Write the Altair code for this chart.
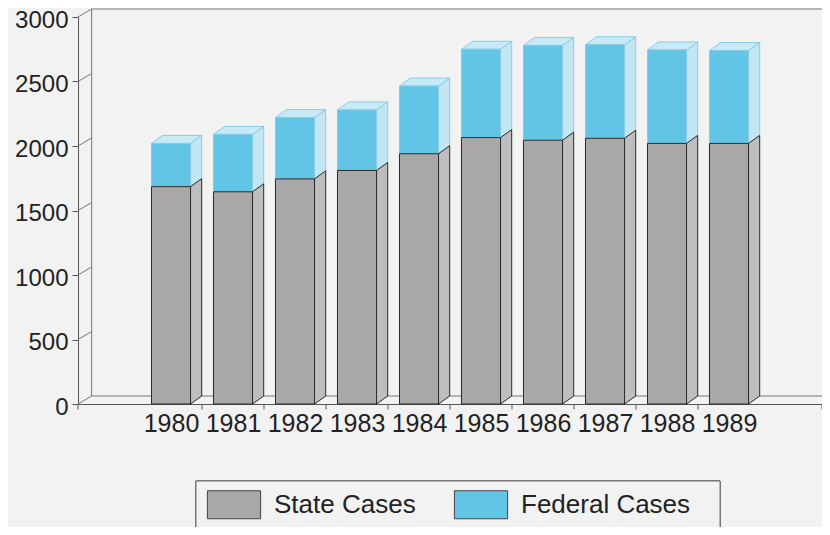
import altair as alt
import pandas as pd

# ---- data ----
years = [1980, 1981, 1982, 1983, 1984, 1985, 1986, 1987, 1988, 1989]
state_cases = [1685, 1645, 1745, 1810, 1940, 2065, 2045, 2060, 2020, 2020]
federal_cases = [335, 445, 475, 470, 525, 685, 735, 725, 725, 720]
series = ["State Cases", "Federal Cases"]
y_ticks = [0, 500, 1000, 1500, 2000, 2500, 3000]

# ---- styling / 3-D geometry constants ----
X0, X1 = years[0] - 1.5, years[-1] + 1.5
Y_MAX = 3000
BAR_HALF = 0.315
BAR_DX = 0.18
WALL_DX = 0.22
DEPTH_Y = 62
FONT = "Liberation Sans"
BG = "#f3f2f2"

df = pd.DataFrame({"year": years, "state": state_cases, "federal": federal_cases})

xs = alt.Scale(domain=[X0, X1], nice=False, zero=False)
ys = alt.Scale(domain=[0, Y_MAX], nice=False, zero=True)
color_scale = alt.Scale(domain=series, range=["#a9a7a8", "#63c5e6"])

x_axis = alt.Axis(
    values=years,
    format="d",
    ticks=False,
    grid=False,
    labelFont=FONT,
    labelFontSize=25,
    labelColor="#222222",
    labelPadding=7,
    labelOverlap=False,
    domainColor="#555555",
    title=None,
)
y_axis = alt.Axis(
    values=y_ticks,
    format="d",
    grid=False,
    tickSize=6,
    labelFont=FONT,
    labelFontSize=24,
    labelColor="#222222",
    labelPadding=4,
    labelOffset=3,
    domainColor="#555555",
    tickColor="#555555",
    title=None,
)


def X(field):
    return alt.X(field, scale=xs, axis=x_axis)


def Y(field):
    return alt.Y(field, scale=ys, axis=y_axis, stack=None)


base = alt.Chart(df).transform_calculate(
    total="datum.state + datum.federal",
    xl=f"datum.year - {BAR_HALF}",
    xr=f"datum.year + {BAR_HALF}",
    zero="0",
)

# depth-expanded rows (front edge k=0, back edge k=1)
deep = base.transform_calculate(k0="0", k1="1").transform_fold(
    ["k0", "k1"], as_=["edge", "k"]
).transform_calculate(
    sx=f"datum.year + {BAR_HALF} + datum.k * {BAR_DX}",
    s_lo=f"datum.k * {DEPTH_Y}",
    s_hi=f"datum.state + datum.k * {DEPTH_Y}",
    f_lo=f"datum.state + datum.k * {DEPTH_Y}",
    f_hi=f"datum.total + datum.k * {DEPTH_Y}",
    ty=f"datum.total + datum.k * {DEPTH_Y}",
    tx1=f"datum.year - {BAR_HALF} + datum.k * {BAR_DX}",
    tx2=f"datum.year + {BAR_HALF} + datum.k * {BAR_DX}",
)

# ---- legend frame box (pixel placement, not data) ----
legend_box = alt.Chart(df).mark_rect(
    fill=BG, stroke="#777777", strokeWidth=1
).encode(
    x=alt.value(118), x2=alt.value(642), y=alt.value(464), y2=alt.value(540)
)

# ---- frame (walls / floor) ----
segs = [
    (X0 + WALL_DX, DEPTH_Y, X0 + WALL_DX, Y_MAX + DEPTH_Y),
    (X0 + WALL_DX, Y_MAX + DEPTH_Y, X1 + WALL_DX, Y_MAX + DEPTH_Y),
    (X0 + WALL_DX, DEPTH_Y, X1 + WALL_DX, DEPTH_Y),
    (X1, 0, X1 + WALL_DX, DEPTH_Y),
] + [(X0, v, X0 + WALL_DX, v + DEPTH_Y) for v in y_ticks]
frame_df = pd.DataFrame(segs, columns=["x", "y", "x2", "y2"])
frame = alt.Chart(frame_df).mark_rule(color="#777777", strokeWidth=1).encode(
    x=X("x:Q"), x2="x2:Q", y=Y("y:Q"), y2="y2:Q"
)

bounds = [X0] + [y + 0.5 for y in years[:-1]] + [X1]
tick_df = pd.DataFrame({"b": bounds})
ticks = alt.Chart(tick_df).transform_calculate(t0="0", t1="-42").mark_rule(
    color="#555555", strokeWidth=1
).encode(x=X("b:Q"), y=Y("t0:Q"), y2="t1:Q")

# ---- bars ----
fed_side = deep.mark_area(
    orient="vertical", fill="#c2e7f3", stroke="#86cde6", strokeWidth=1
).encode(x=X("sx:Q"), y=Y("f_lo:Q"), y2="f_hi:Q", detail="year:N")

fed_top = deep.mark_area(
    orient="horizontal", fill="#c8eaf6", stroke="#86cde6", strokeWidth=1
).encode(y=Y("ty:Q"), x=X("tx1:Q"), x2="tx2:Q", detail="year:N")

state_side = deep.mark_area(
    orient="vertical", fill="#bebebe", stroke="#2b2b2b", strokeWidth=1
).encode(x=X("sx:Q"), y=Y("s_lo:Q"), y2="s_hi:Q", detail="year:N")

legend = alt.Legend(
    title=None,
    orient="none",
    legendX=141.5,
    legendY=473,
    direction="horizontal",
    padding=0,
    symbolType="M-1.9,-1H1.9V1H-1.9Z",
    symbolSize=784,
    symbolStrokeColor="#444444",
    symbolStrokeWidth=1,
    symbolOpacity=1,
    labelFont=FONT,
    labelFontSize=26,
    labelColor="#222222",
    labelOffset=25.5,
    labelLimit=400,
    columnPadding=35,
)

fed_front = base.transform_calculate(series="'Federal Cases'").mark_bar(
    stroke="#86cde6", strokeWidth=1
).encode(
    x=X("xl:Q"),
    x2="xr:Q",
    y=Y("state:Q"),
    y2="total:Q",
    fill=alt.Fill("series:N", scale=color_scale, legend=legend),
)

state_front = base.transform_calculate(series="'State Cases'").mark_bar(
    stroke="#2b2b2b", strokeWidth=1
).encode(
    x=X("xl:Q"),
    x2="xr:Q",
    y=Y("zero:Q"),
    y2="state:Q",
    fill=alt.Fill("series:N", scale=color_scale, legend=legend),
)

chart = alt.layer(
    legend_box, frame, ticks, fed_side, fed_top, fed_front, state_side, state_front
).properties(
    width=744,
    height=387,
    padding={"left": 70, "top": 9, "right": 0, "bottom": 123},
    autosize=alt.AutoSizeParams(type="none"),
    background=BG,
).configure_view(stroke=None)

chart.save("out.html", embed_options={"renderer": "svg", "actions": False})
